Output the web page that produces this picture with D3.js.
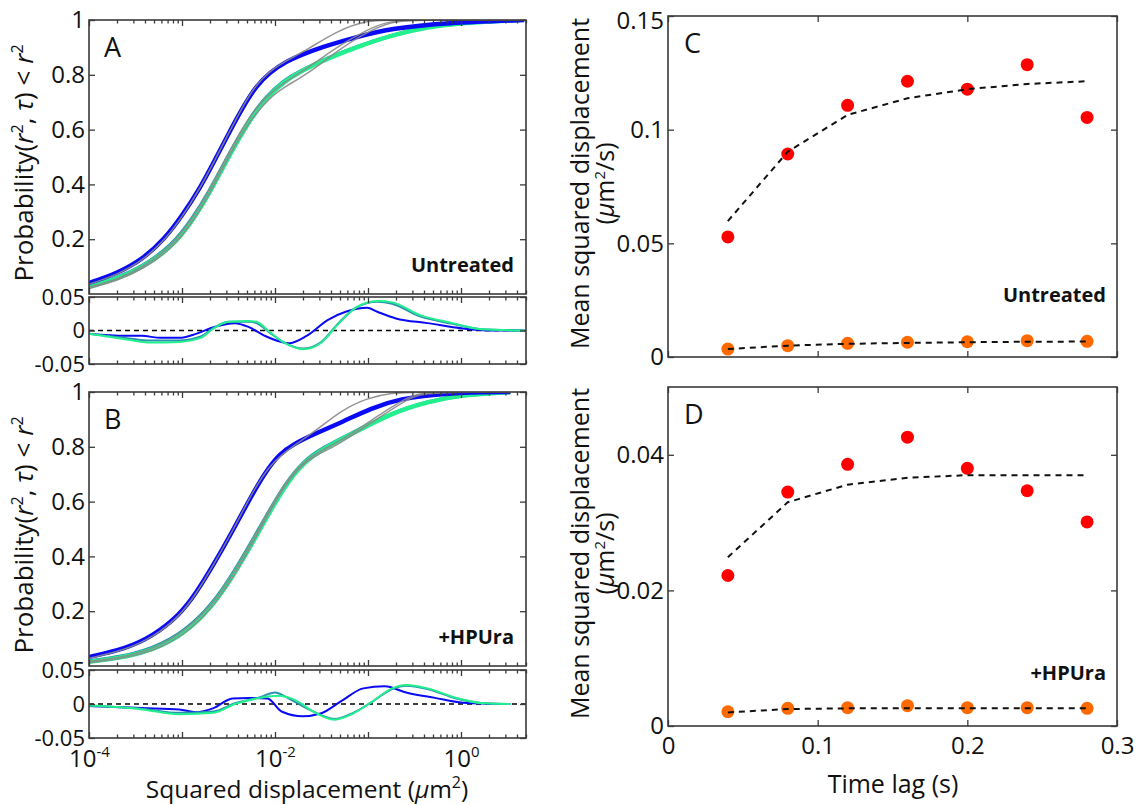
<!DOCTYPE html>
<html><head><meta charset="utf-8">
<script src="https://cdn.jsdelivr.net/npm/d3@7"></script>
<style>
html,body{margin:0;padding:0;background:#fff;}
svg text{font-family:"Open Sans","Noto Sans",sans-serif;fill:#111;}
</style></head>
<body><svg id="c" width="1139" height="805"></svg>
<script>
// ---------- DATA (exponent of squared displacement, cumulative probability) ----------
const aBlue  = [[-4,0.04],[-3.7,0.075],[-3.43,0.125],[-3.19,0.2],[-3.0,0.285],[-2.8,0.39],[-2.66,0.48],[-2.5,0.585],[-2.34,0.685],[-2.2,0.76],[-2.05,0.81],[-1.89,0.847],[-1.7,0.875],[-1.51,0.90],[-1.13,0.938],[-0.74,0.97],[-0.16,0.99],[0.68,1.0]];
const aTeal  = [[-4,0.029],[-3.7,0.058],[-3.43,0.099],[-3.11,0.176],[-2.89,0.273],[-2.7,0.378],[-2.5,0.508],[-2.28,0.638],[-2.1,0.72],[-1.9,0.78],[-1.74,0.812],[-1.43,0.862],[-1.13,0.902],[-0.74,0.946],[-0.36,0.976],[0.02,0.99],[0.64,1.0]];
const aGreen = [[-4,0.027],[-3.7,0.055],[-3.43,0.095],[-3.11,0.17],[-2.89,0.265],[-2.7,0.37],[-2.5,0.50],[-2.28,0.63],[-2.1,0.715],[-1.9,0.775],[-1.74,0.81],[-1.43,0.86],[-1.13,0.90],[-0.74,0.945],[-0.36,0.975],[0.02,0.99],[0.64,1.0]];
const aBlueFit  = [[-4,0.035],[-3.7,0.07],[-3.43,0.12],[-3.19,0.195],[-3.0,0.28],[-2.8,0.39],[-2.66,0.48],[-2.5,0.585],[-2.34,0.69],[-2.2,0.765],[-2.05,0.815],[-1.89,0.85],[-1.66,0.89],[-1.32,0.963],[-1.01,0.998],[-0.8,1.0],[0.68,1.0]];
const aTealFit  = [[-4,0.025],[-3.7,0.053],[-3.43,0.095],[-3.11,0.175],[-2.89,0.275],[-2.7,0.38],[-2.5,0.515],[-2.28,0.645],[-2.1,0.72],[-1.89,0.775],[-1.62,0.83],[-1.32,0.905],[-1.01,0.965],[-0.8,0.993],[-0.6,1.0],[0.68,1.0]];
const aGreenFit = [[-4,0.02],[-3.7,0.048],[-3.43,0.088],[-3.11,0.165],[-2.89,0.26],[-2.7,0.365],[-2.5,0.50],[-2.28,0.63],[-2.05,0.72],[-1.89,0.757],[-1.62,0.81],[-1.32,0.89],[-1.01,0.957],[-0.74,0.994],[-0.55,1.0],[0.68,1.0]];
const aResBlue  = [[-4,-0.005],[-3.61,-0.008],[-3.43,-0.008],[-3.23,-0.011],[-3.03,-0.011],[-2.85,-0.005],[-2.66,0.005],[-2.43,0.011],[-2.28,0.005],[-2.11,-0.008],[-1.85,-0.019],[-1.66,-0.008],[-1.43,0.016],[-1.24,0.028],[-1.01,0.034],[-0.90,0.028],[-0.70,0.018],[-0.36,0.011],[0.02,0.003],[0.33,0],[0.68,0]];
const aResTeal  = [[-4,-0.005],[-3.61,-0.011],[-3.34,-0.015],[-3.03,-0.015],[-2.80,-0.009],[-2.66,0.004],[-2.5,0.013],[-2.28,0.013],[-2.20,0.011],[-2.05,-0.004],[-1.89,-0.019],[-1.70,-0.027],[-1.51,-0.018],[-1.31,0.012],[-1.13,0.034],[-0.90,0.043],[-0.74,0.04],[-0.44,0.021],[-0.09,0.01],[0.22,0.002],[0.68,0]];
const aResGreen = [[-4,-0.005],[-3.61,-0.013],[-3.34,-0.018],[-3.03,-0.017],[-2.80,-0.011],[-2.66,0.003],[-2.5,0.013],[-2.28,0.014],[-2.20,0.013],[-2.05,-0.003],[-1.89,-0.019],[-1.70,-0.028],[-1.51,-0.019],[-1.31,0.011],[-1.13,0.034],[-0.90,0.044],[-0.74,0.042],[-0.44,0.023],[-0.09,0.011],[0.22,0.002],[0.68,0]];

const bBlue  = [[-4,0.033],[-3.61,0.062],[-3.31,0.11],[-3.03,0.185],[-2.85,0.265],[-2.66,0.37],[-2.46,0.49],[-2.28,0.605],[-2.1,0.71],[-1.95,0.775],[-1.8,0.81],[-1.59,0.845],[-1.28,0.89],[-0.97,0.94],[-0.67,0.975],[-0.16,0.997],[0.53,1.0]];
const bTeal  = [[-4,0.018],[-3.5,0.041],[-3.11,0.094],[-2.80,0.178],[-2.57,0.273],[-2.34,0.4],[-2.11,0.538],[-1.89,0.666],[-1.7,0.745],[-1.5,0.795],[-1.13,0.857],[-0.74,0.925],[-0.36,0.965],[0.02,0.99],[0.53,1.0]];
const bGreen = [[-4,0.015],[-3.5,0.037],[-3.11,0.087],[-2.80,0.17],[-2.57,0.265],[-2.34,0.39],[-2.11,0.53],[-1.89,0.66],[-1.7,0.74],[-1.5,0.79],[-1.13,0.855],[-0.74,0.924],[-0.36,0.965],[0.02,0.99],[0.53,1.0]];
const bBlueFit  = [[-4,0.028],[-3.61,0.058],[-3.31,0.105],[-3.03,0.18],[-2.85,0.262],[-2.66,0.37],[-2.46,0.49],[-2.28,0.61],[-2.1,0.715],[-1.89,0.785],[-1.59,0.85],[-1.28,0.935],[-1.01,0.978],[-0.74,0.997],[-0.5,1.0],[0.53,1.0]];
const bTealFit  = [[-4,0.016],[-3.5,0.039],[-3.11,0.093],[-2.80,0.178],[-2.57,0.272],[-2.34,0.4],[-2.11,0.54],[-1.89,0.672],[-1.66,0.76],[-1.36,0.81],[-1.13,0.858],[-0.82,0.93],[-0.55,0.985],[-0.4,1.0],[0.53,1.0]];
const bGreenFit = [[-4,0.012],[-3.5,0.033],[-3.11,0.083],[-2.80,0.165],[-2.57,0.26],[-2.34,0.385],[-2.11,0.53],[-1.89,0.665],[-1.66,0.755],[-1.36,0.80],[-1.13,0.85],[-0.82,0.92],[-0.55,0.98],[-0.36,1.0],[0.53,1.0]];
const bResBlue  = [[-4,-0.003],[-3.43,-0.006],[-3.03,-0.008],[-2.85,-0.012],[-2.66,-0.006],[-2.46,0.008],[-2.28,0.009],[-2.08,0.008],[-1.93,-0.011],[-1.70,-0.018],[-1.51,-0.014],[-1.28,0.005],[-1.05,0.023],[-0.82,0.026],[-0.59,0.017],[-0.28,0.009],[0.02,0.002],[0.53,0]];
const bResTeal  = [[-4,-0.003],[-3.43,-0.007],[-3.03,-0.013],[-2.66,-0.011],[-2.43,0.001],[-2.16,0.01],[-2.0,0.017],[-1.85,0.008],[-1.62,-0.009],[-1.36,-0.022],[-1.16,-0.013],[-0.97,0.002],[-0.74,0.022],[-0.59,0.027],[-0.36,0.022],[-0.05,0.008],[0.25,0.001],[0.53,0]];
const bResGreen = [[-4,-0.002],[-3.43,-0.008],[-3.03,-0.015],[-2.66,-0.013],[-2.43,0],[-2.16,0.009],[-1.97,0.012],[-1.77,0.005],[-1.59,-0.011],[-1.36,-0.023],[-1.16,-0.014],[-0.97,0.002],[-0.74,0.023],[-0.59,0.028],[-0.36,0.023],[-0.05,0.009],[0.25,0.001],[0.53,0]];

// Panels C / D
const timeLag    = [0.04,0.08,0.12,0.16,0.20,0.24,0.28];
const cRed       = [0.0528,0.0893,0.1107,0.1213,0.1178,0.1286,0.1054];
const cRedFit    = [0.0598,0.0903,0.1065,0.1138,0.1178,0.1201,0.1213];
const cOrange    = [0.0035,0.0050,0.0060,0.0065,0.0067,0.0072,0.0069];
const cOrangeFit = [0.0035,0.0050,0.0058,0.0062,0.0065,0.0067,0.0068];
const dRed       = [0.0222,0.0345,0.0386,0.0426,0.0380,0.0347,0.0301];
const dRedFit    = [0.0249,0.0330,0.0356,0.0366,0.0370,0.0370,0.0370];
const dOrange    = [0.0021,0.0026,0.0027,0.0030,0.0027,0.0027,0.0026];
const dOrangeFit = [0.0020,0.0025,0.0026,0.0026,0.0026,0.0026,0.0026];

const probTicks = [0.2,0.4,0.6,0.8,1];
const resTicks  = [-0.05,0,0.05];
const cTicksY   = [0,0.05,0.1,0.15];
const dTicksY   = [0,0.02,0.04];
const timeTicks = [0,0.1,0.2,0.3];
const decadeExps = [-4,-3,-2,-1,0];
const labeledExps = [-4,-2,0];

// ---------- STYLE ----------
const COL = {blue:"#0a0af5", teal:"#2a8fb0", green:"#22f08e", gray:"#8a8a8a", red:"#ff0000", orange:"#ff6a00", axis:"#3a3a3a"};
const TICKFS = 24;
const svg = d3.select("#c");

const xL = 89, xR = 526;
const xLog = d3.scaleLog().domain([1e-4, 5]).range([xL, xR]);
const majorT = decadeExps.map(e => Math.pow(10, e));
const minorT = [];
for (let e = -4; e <= 0; e++) for (let m = 2; m <= 9; m++) { const v = m * Math.pow(10, e); if (v <= 5) minorT.push(v); }

function frame(x0, x1, y0, y1) {
  svg.append("rect").attr("x", x0).attr("y", y0).attr("width", x1 - x0).attr("height", y1 - y0)
    .attr("fill", "none").attr("stroke", COL.axis).attr("stroke-width", 1.6);
}
function styleAxis(g, fs) {
  g.select(".domain").remove();
  g.selectAll(".tick line").attr("stroke", COL.axis).attr("stroke-width", 1.3);
  g.selectAll(".tick text").attr("font-size", fs || TICKFS).attr("fill", "#111")
    .attr("font-family", '"Open Sans","Noto Sans",sans-serif');
}
function logXAxes(yTop, yBot, withLabels) {
  [[d3.axisBottom, yBot, -6, majorT], [d3.axisBottom, yBot, -3.5, minorT], [d3.axisTop, yTop, -6, majorT], [d3.axisTop, yTop, -3.5, minorT]]
    .forEach(([fn, y, sz, vals]) => {
      const ax = fn(xLog).tickValues(vals).tickSize(sz).tickFormat("");
      const g = svg.append("g").attr("transform", `translate(0,${y})`).call(ax);
      styleAxis(g);
    });
  if (withLabels) {
    const g = svg.append("g").attr("transform", `translate(0,${yBot})`)
      .call(d3.axisBottom(xLog).tickValues(labeledExps.map(e => Math.pow(10, e))).tickSize(0).tickFormat(""));
    styleAxis(g);
    g.selectAll(".tick").each(function(d) {
      const t = d3.select(this).append("text").attr("y", 29).attr("text-anchor", "middle")
        .attr("font-size", TICKFS).attr("fill", "#111");
      t.append("tspan").text("10");
      t.append("tspan").attr("dy", -10).attr("font-size", 15).text(String(Math.round(Math.log10(d))));
    });
  }
}
function yAxes(scale, ticks, x0, x1, fmt, fs) {
  const gl = svg.append("g").attr("transform", `translate(${x0},0)`)
    .call(d3.axisLeft(scale).tickValues(ticks).tickSize(-6).tickPadding(4).tickFormat(fmt));
  styleAxis(gl, fs);
  const gr = svg.append("g").attr("transform", `translate(${x1},0)`)
    .call(d3.axisRight(scale).tickValues(ticks).tickSize(-6).tickFormat(""));
  styleAxis(gr, fs);
  return gl;
}
const fmtG = d => (d === 0 ? "0" : String(+d.toFixed(3)));

function cdfPanel(yTop, yBot, rTop, rBot, data, fits, res, lettr, tag, tagY, withLabels) {
  const yP = d3.scaleLinear().domain([0, 1]).range([yBot, yTop]);
  const yR = d3.scaleLinear().domain([-0.05, 0.05]).range([rBot, rTop]);
  const line = (ys, cv) => d3.line().x(d => xLog(Math.pow(10, d[0]))).y(d => ys(d[1])).curve(cv);
  const clipId = "clip" + lettr;
  svg.append("clipPath").attr("id", clipId).append("rect").attr("x", xL).attr("y", yTop).attr("width", xR - xL).attr("height", yBot - yTop);
  const gm = svg.append("g").attr("clip-path", `url(#${clipId})`);
  [[data[1], COL.teal, 3.6], [data[2], COL.green, 4.4], [data[0], COL.blue, 4.4]].forEach(([d, c, w]) => {
    gm.append("path").datum(d).attr("d", line(yP, d3.curveBasis)).attr("fill", "none").attr("stroke", c).attr("stroke-width", w);
  });
  fits.forEach(d => {
    gm.append("path").datum(d).attr("d", line(yP, d3.curveBasis)).attr("fill", "none").attr("stroke", COL.gray).attr("stroke-width", 1.5).attr("opacity", 0.9);
  });
  svg.append("line").attr("x1", xL).attr("x2", xR).attr("y1", yR(0)).attr("y2", yR(0))
    .attr("stroke", "#000").attr("stroke-width", 1.4).attr("stroke-dasharray", "5,4");
  [[res[0], COL.blue], [res[1], COL.teal], [res[2], COL.green]].forEach(([d, c]) => {
    svg.append("path").datum(d).attr("d", line(yR, d3.curveMonotoneX)).attr("fill", "none").attr("stroke", c).attr("stroke-width", 2);
  });
  frame(xL, xR, yTop, yBot);
  frame(xL, xR, rTop, rBot);
  logXAxes(yTop, yBot, false);
  logXAxes(rTop, rBot, withLabels);
  yAxes(yP, probTicks, xL, xR, fmtG);
  yAxes(yR, resTicks, xL, xR, fmtG, 22);
  svg.append("text").attr("x", 104).attr("y", yTop + 37).attr("font-size", 27).text(lettr);
  svg.append("text").attr("x", 514).attr("y", tagY).attr("text-anchor", "end").attr("font-size", 20)
    .attr("font-weight", "bold").text(tag);
  const cy = (yTop + yBot) / 2 + 6;
  const t = svg.append("text").attr("transform", `translate(33,${cy}) rotate(-90)`).attr("text-anchor", "middle").attr("font-size", 26);
  t.append("tspan").text("Probability(");
  t.append("tspan").attr("font-style", "italic").text("r");
  t.append("tspan").attr("dy", -10).attr("font-size", 16).text("2");
  t.append("tspan").attr("dy", 10).text(", ");
  t.append("tspan").attr("font-style", "italic").text("τ");
  t.append("tspan").text(") < ");
  t.append("tspan").attr("font-style", "italic").text("r");
  t.append("tspan").attr("dy", -10).attr("font-size", 16).text("2");
}

cdfPanel(20, 294, 297, 364, [aBlue, aTeal, aGreen], [aBlueFit, aTealFit, aGreenFit], [aResBlue, aResTeal, aResGreen], "A", "Untreated", 272, false);
cdfPanel(392, 666, 670, 738, [bBlue, bTeal, bGreen], [bBlueFit, bTealFit, bGreenFit], [bResBlue, bResTeal, bResGreen], "B", "+HPUra", 644, true);

(function() {
  const t = svg.append("text").attr("x", 307).attr("y", 798).attr("text-anchor", "middle").attr("font-size", 24.5);
  t.append("tspan").text("Squared displacement (");
  t.append("tspan").attr("font-style", "italic").text("μ");
  t.append("tspan").text("m");
  t.append("tspan").attr("dy", -10).attr("font-size", 16).text("2");
  t.append("tspan").attr("dy", 10).text(")");
})();

// ---------- Panels C / D ----------
const cxL = 668, cxR = 1117;
const xT = d3.scaleLinear().domain([0, 0.3]).range([cxL, cxR]);
function msdPanel(yTop, yBot, ymax, yTicks, red, redFit, orange, orangeFit, lettr, tag, tagY, withLabels) {
  const y = d3.scaleLinear().domain([0, ymax]).range([yBot, yTop]);
  frame(cxL, cxR, yTop, yBot);
  const gb = svg.append("g").attr("transform", `translate(0,${yBot})`)
    .call(d3.axisBottom(xT).tickValues(timeTicks).tickSize(-6).tickPadding(withLabels ? 8 : 0).tickFormat(withLabels ? fmtG : ""));
  styleAxis(gb);
  gb.selectAll(".tick text").attr("dy", "0.85em");
  const gt = svg.append("g").attr("transform", `translate(0,${yTop})`)
    .call(d3.axisTop(xT).tickValues(timeTicks).tickSize(-6).tickFormat(""));
  styleAxis(gt);
  const gl = yAxes(y, yTicks, cxL, cxR, fmtG);
  gl.selectAll(".tick text").filter(d => d === ymax).attr("dy", "0.5em");
  const pts = (vals) => timeLag.map((t, i) => [t, vals[i]]);
  [[red, COL.red], [orange, COL.orange]].forEach(([vals, c]) => {
    svg.append("g").selectAll("circle").data(pts(vals)).join("circle")
      .attr("cx", d => xT(d[0])).attr("cy", d => y(d[1])).attr("r", 6.5).attr("fill", c);
  });
  const ln = d3.line().x(d => xT(d[0])).y(d => y(d[1]));
  [redFit, orangeFit].forEach(vals => {
    svg.append("path").datum(pts(vals)).attr("d", ln).attr("fill", "none").attr("stroke", "#111")
      .attr("stroke-width", 2).attr("stroke-dasharray", "6,5");
  });
  svg.append("text").attr("x", 684).attr("y", yTop + 37).attr("font-size", 27).text(lettr);
  svg.append("text").attr("x", 1106).attr("y", tagY).attr("text-anchor", "end").attr("font-size", 20)
    .attr("font-weight", "bold").text(tag);
  const cy = (yTop + yBot) / 2 - 3;
  svg.append("text").attr("transform", `translate(589,${cy}) rotate(-90)`).attr("text-anchor", "middle")
    .attr("font-size", 25).text("Mean squared displacement");
  const t = svg.append("text").attr("transform", `translate(614,${cy}) rotate(-90)`).attr("text-anchor", "middle").attr("font-size", 25);
  t.append("tspan").text("(");
  t.append("tspan").attr("font-style", "italic").text("μ");
  t.append("tspan").text("m");
  t.append("tspan").attr("dy", -9).attr("font-size", 15).text("2");
  t.append("tspan").attr("dy", 9).text("/s)");
}
msdPanel(16, 357, 0.15, cTicksY, cRed, cRedFit, cOrange, cOrangeFit, "C", "Untreated", 302, false);
msdPanel(387, 726, 0.05, dTicksY, dRed, dRedFit, dOrange, dOrangeFit, "D", "+HPUra", 680, true);

svg.append("text").attr("x", 893).attr("y", 793).attr("text-anchor", "middle").attr("font-size", 25).text("Time lag (s)");
</script></body></html>
